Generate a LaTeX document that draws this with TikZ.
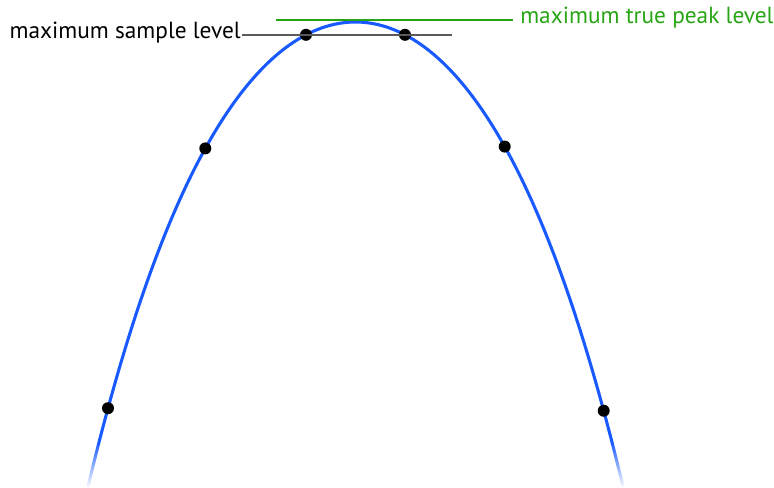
\documentclass[tikz,border=0pt]{standalone}
\usepackage{fontspec}
\setmainfont{PT Sans}
\usetikzlibrary{fadings}
\definecolor{curveblue}{RGB}{25,90,255}
\definecolor{peakgreen}{RGB}{40,165,20}
\definecolor{samplegray}{RGB}{90,90,90}
\tikzset{
  sample/.style={circle, fill=black, inner sep=0pt, minimum size=9pt},
  lbl/.style={inner sep=0pt, font=\fontsize{17.5pt}{20pt}\selectfont},
  curve/.style={curveblue, line width=2.3pt},
}
\begin{document}
\begin{tikzpicture}[x=0.75pt, y=-0.75pt]
\useasboundingbox (0,0) rectangle (774,487);
\begin{scope}
\clip (0,0) rectangle (774,487);
\draw[curve] plot[domain=-2.68:2.69, samples=120, smooth] ({355.5+100*\x},{22+51.9*\x*\x+1.82*\x*\x*\x*\x});
\end{scope}
\fill[white, path fading=north] (0,442) rectangle (774,488);
% samples
\node[sample] (s1) at (108,{22+51.9*6.1256+1.82*37.52}) {};
\node[sample] (s2) at (205.3,148.4) {};
\node[sample] (s3) at (306,34.8) {};
\node[sample] (s4) at (405,34.8) {};
\node[sample] (s5) at (504.7,{22+51.9*1.492*1.492+1.82*1.492*1.492*1.492*1.492}) {};
\node[sample] (s6) at (603.7,{22+51.9*6.160+1.82*37.95}) {};
% levels
\node[lbl, anchor=mid east] (ms) at (241,35) {maximum sample level};
\coordinate (msend) at (452,35);
\draw[samplegray, line width=0.8pt] ([xshift=1pt]ms.mid east) -- (msend);
\node[lbl, anchor=mid west, text=peakgreen] (tp) at (520,20) {maximum true peak level};
\coordinate (tpstart) at (276,20);
\draw[peakgreen, line width=1pt] (tpstart) -- ([xshift=-5pt]tp.mid west);
\end{tikzpicture}
\end{document}
